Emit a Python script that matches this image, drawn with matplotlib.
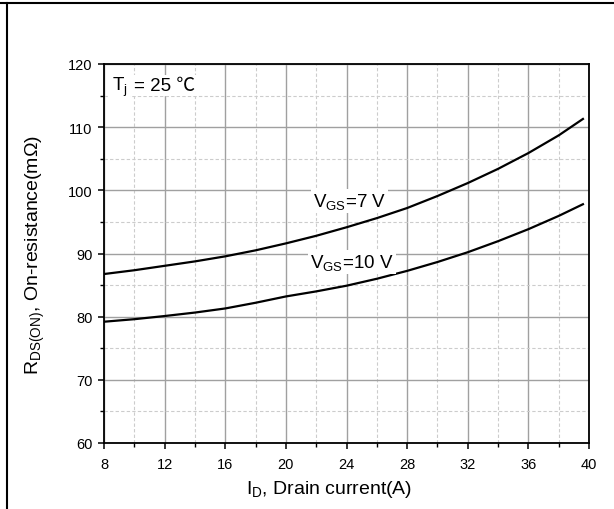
import matplotlib
matplotlib.use("Agg")
import matplotlib.pyplot as plt
from matplotlib.lines import Line2D
from matplotlib.ticker import MultipleLocator

plt.rcParams['font.family'] = ['Liberation Sans', 'DejaVu Sans', 'Noto Sans CJK SC']
plt.rcParams['mathtext.fontset'] = 'custom'
plt.rcParams['mathtext.rm'] = 'Liberation Sans'
plt.rcParams['mathtext.it'] = 'Liberation Sans'

# Drain current (A)
current = [8, 10, 12, 14, 16, 18, 20, 22, 24, 26, 28, 30, 32, 34, 36, 38, 39.6]
# On-resistance (mOhm) at VGS = 7 V
r_vgs7 = [86.75, 87.35, 88.05, 88.75, 89.55, 90.5, 91.6, 92.8, 94.15, 95.6,
          97.2, 99.1, 101.15, 103.4, 105.9, 108.7, 111.3]
# On-resistance (mOhm) at VGS = 10 V
r_vgs10 = [79.2, 79.6, 80.1, 80.65, 81.3, 82.2, 83.2, 84.0, 84.9, 86.0,
           87.25, 88.65, 90.2, 91.95, 93.85, 95.95, 97.8]

x_ticks = [8, 12, 16, 20, 24, 28, 32, 36, 40]
y_ticks = [60, 70, 80, 90, 100, 110, 120]

W, H = 614, 510
fig = plt.figure(figsize=(W / 100, H / 100), dpi=100)
fig.patch.set_facecolor('white')

# axes placement in pixels
l, r, t, b = 104, 589, 65, 444
ax = fig.add_axes([l / W, 1 - b / H, (r - l) / W, (b - t) / H])

ax.set_xlim(8, 40)
ax.set_ylim(60, 120)
ax.set_xticks(x_ticks)
ax.set_yticks(y_ticks)
ax.xaxis.set_minor_locator(MultipleLocator(2))
ax.yaxis.set_minor_locator(MultipleLocator(5))

ax.grid(True, which='major', color='#a0a0a0', linewidth=1.0, linestyle='-')
ax.grid(True, which='minor', color='#cccccc', linewidth=0.8, linestyle=(0, (3, 2)))
ax.set_axisbelow(True)

ax.plot(current, r_vgs7, color='black', linewidth=1.6, zorder=3)
ax.plot(current, r_vgs10, color='black', linewidth=1.6, zorder=3)

for s in ax.spines.values():
    s.set_linewidth(1.3)
    s.set_color('black')

ax.tick_params(which='major', direction='out', length=4.3, width=1.1, labelsize=10.5,
               top=False, right=False)
ax.tick_params(which='minor', direction='out', length=2.6, width=1.0,
               top=False, right=False)
ax.tick_params(axis='x', which='major', pad=5.5)
ax.tick_params(axis='y', which='major', pad=4.0)

ax.set_xlabel(r'I$_\mathregular{D}$, Drain current(A)', fontsize=14)
ax.set_ylabel(r'R$_\mathregular{DS(ON)}$, On-resistance(m$\Omega$)', fontsize=14)
ax.xaxis.set_label_coords((329 - l) / (r - l), -(479 - b) / (b - t))
ax.yaxis.set_label_coords(-(104 - 47) / (r - l), 0.5)

bbox = dict(facecolor='white', edgecolor='none', pad=1.5)
ax.text(8.53, 115.9, r'T$_\mathregular{j}$', fontsize=13.5, va='baseline', ha='left',
        bbox=bbox, zorder=4)
ax.text(10.0, 115.9, '= 25 ℃', fontsize=13.5, va='baseline', ha='left',
        family=['Liberation Sans', 'Noto Sans CJK SC', 'DejaVu Sans'],
        bbox=bbox, zorder=4)
ax.text(21.79, 97.55, r'V$_\mathregular{GS}$=7 V', fontsize=13.5, va='baseline', ha='left',
        bbox=bbox, zorder=4)
ax.text(21.59, 87.8, r'V$_\mathregular{GS}$=10 V', fontsize=13.5, va='baseline', ha='left',
        bbox=bbox, zorder=4)

# outer frame lines (top and left)
fig.add_artist(Line2D([0, 1], [1 - 4 / H, 1 - 4 / H], color='black', linewidth=1.5,
                      transform=fig.transFigure))
fig.add_artist(Line2D([7 / W, 7 / W], [0, 1 - 4 / H], color='black', linewidth=1.5,
                      transform=fig.transFigure))

fig.savefig('out.png', dpi=100)
